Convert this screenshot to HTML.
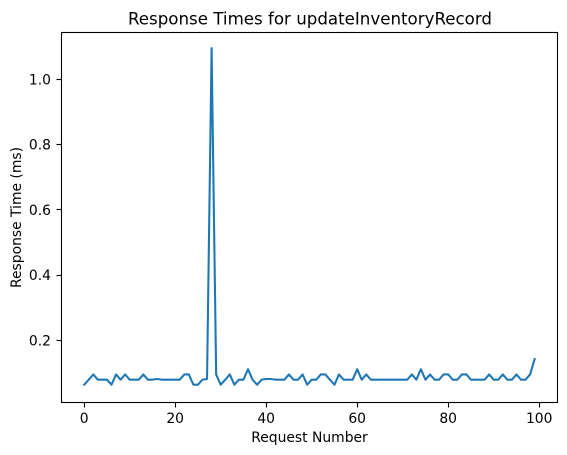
<!DOCTYPE html>
<html>
<head>
<meta charset="utf-8">
<style>
html,body{margin:0;padding:0;background:#fff;width:567px;height:455px;overflow:hidden}
svg{display:block}
text{font-family:"DejaVu Sans",sans-serif;fill:#000}
</style>
</head>
<body>
<svg id="chart" width="567" height="455" viewBox="0 0 567 455" xmlns="http://www.w3.org/2000/svg">
<text x="310" y="24.5" font-size="16.67" text-anchor="middle">Response Times for updateInventoryRecord</text>
<text x="309.5" y="442" font-size="13.89" text-anchor="middle">Request Number</text>
<text transform="translate(21 217.5) rotate(-90)" font-size="13.89" text-anchor="middle">Response Time (ms)</text>
<g id="ticks"></g>
<path id="line" fill="none" stroke="#1f77b4" stroke-width="2.08" stroke-linejoin="round" stroke-linecap="square"></path>
<rect x="61.5" y="32.5" width="496" height="370" fill="none" stroke="#000" stroke-width="1.1"></rect>
</svg>
<script>
const responseTimes = [
0.0625,0.078,0.094,0.078,0.078,0.078,0.0625,0.094,0.078,0.094,
0.078,0.078,0.078,0.094,0.078,0.078,0.08,0.078,0.078,0.078,
0.078,0.078,0.094,0.094,0.0625,0.0625,0.078,0.08,1.094,0.094,
0.0625,0.078,0.094,0.0625,0.078,0.078,0.11,0.078,0.0625,0.078,
0.08,0.08,0.078,0.078,0.078,0.094,0.078,0.078,0.094,0.0625,
0.078,0.078,0.094,0.094,0.078,0.0625,0.094,0.078,0.078,0.078,
0.11,0.078,0.094,0.078,0.078,0.078,0.078,0.078,0.078,0.078,
0.078,0.078,0.094,0.078,0.11,0.078,0.094,0.078,0.078,0.094,
0.094,0.078,0.078,0.094,0.094,0.078,0.078,0.078,0.078,0.094,
0.078,0.078,0.094,0.078,0.078,0.094,0.078,0.078,0.094,0.141
];
const xTickValues = [0,20,40,60,80,100];
const yTickValues = [0.2,0.4,0.6,0.8,1.0];

const xPos = v => 84.2 + v * 4.55;
const yPos = v => 405.1 - v * 326.25;
const NS = 'http://www.w3.org/2000/svg';
const ticks = document.getElementById('ticks');

function addEl(tag, attrs, txt) {
  const el = document.createElementNS(NS, tag);
  for (const k in attrs) el.setAttribute(k, attrs[k]);
  if (txt !== undefined) el.textContent = txt;
  ticks.appendChild(el);
  return el;
}

xTickValues.forEach(v => {
  const x = Math.round(xPos(v) - 0.2) + 0.5;
  const mark = addEl('line', {x1:x, x2:x, y1:402.5, y2:407.5, stroke:'#000', 'stroke-width':1.1});
  
  
  const label = addEl('text', {x:xPos(v), y:423, 'font-size':13.89, 'text-anchor':'middle'}, String(v));
  
  
});

yTickValues.forEach(v => {
  const y = Math.round(yPos(v)) + 0.5;
  const mark = addEl('line', {x1:56.5, x2:61.5, y1:y, y2:y, stroke:'#000', 'stroke-width':1.1});
  
  
  const label = addEl('text', {x:51, y:yPos(v) + 5.4, 'font-size':13.89, 'text-anchor':'end'}, v.toFixed(1));
  
  
});

document.getElementById('line').setAttribute('d',
  responseTimes.map((v, i) => (i ? 'L' : 'M') + xPos(i).toFixed(2) + ' ' + yPos(v).toFixed(2)).join(' '));
</script>
</body>
</html>
